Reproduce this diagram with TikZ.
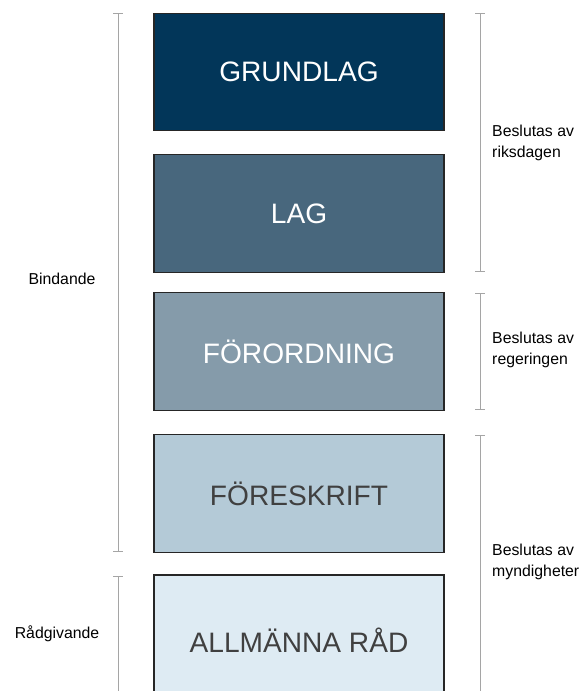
\documentclass[tikz,border=0pt]{standalone}
\usepackage{fontspec}
\setmainfont{Liberation Sans}
\usetikzlibrary{arrows.meta}
\definecolor{nivaA}{RGB}{2,54,89}
\definecolor{nivaB}{RGB}{72,103,125}
\definecolor{nivaC}{RGB}{133,155,170}
\definecolor{nivaD}{RGB}{180,202,215}
\definecolor{nivaE}{RGB}{222,235,243}
\definecolor{textgra}{RGB}{64,64,64}
\definecolor{linjegra}{RGB}{165,165,165}
\begin{document}
\begin{tikzpicture}[x=0.03cm,y=-0.03cm,
    niva/.style={draw=black!85,line width=1pt,rectangle,minimum width=8.7cm,
      minimum height=3.52cm,inner sep=0pt,font=\fontsize{24}{28}\selectfont},
    klammer/.style={draw=linjegra,line width=0.6pt,{Bar[width=8pt]}-{Bar[width=8pt]}},
    oppenklammer/.style={draw=linjegra,line width=0.6pt,{Bar[width=8pt]}-},
    etikett/.style={align=left,anchor=west,inner sep=0pt,
      font=\fontsize{13.5}{18}\selectfont}]
  \useasboundingbox (0,0) rectangle (582,691);

  % nivaerna
  \node[niva,fill=nivaA,text=white] (grundlag) at (299,72) {GRUNDLAG};
  \node[niva,fill=nivaB,text=white] (lag) at (299,213.5) {LAG};
  \node[niva,fill=nivaC,text=white] (forordning) at (299,351.5) {FÖRORDNING};
  \node[niva,fill=nivaD,text=textgra] (foreskrift) at (299,493.5) {FÖRESKRIFT};
  \node[niva,fill=nivaE,text=textgra,minimum height=3.9cm] (allmanna) at (299,640) {ALLMÄNNA RÅD};

  % vanster
  \coordinate (binTopp) at (118,13);
  \coordinate (binBotten) at (118,552);
  \coordinate (radTopp) at (118,576);
  \coordinate (radBotten) at (118,700);
  \draw[klammer] (binTopp) -- (binBotten);
  \draw[oppenklammer] (radTopp) -- (radBotten);
  \node[inner sep=0pt,font=\fontsize{13.5}{18}\selectfont] (bindande) at (62,279) {Bindande};
  \node[inner sep=0pt,font=\fontsize{13.5}{18}\selectfont] (radgivande) at (57,634) {Rådgivande};

  % hoger
  \coordinate (rikTopp) at (480,13);
  \coordinate (rikBotten) at (480,272);
  \coordinate (regTopp) at (480,293);
  \coordinate (regBotten) at (480,410);
  \coordinate (myndTopp) at (480,435);
  \coordinate (myndBotten) at (480,700);
  \draw[klammer] (rikTopp) -- (rikBotten);
  \draw[klammer] (regTopp) -- (regBotten);
  \draw[oppenklammer] (myndTopp) -- (myndBotten);
  \node[etikett] (riksdagen) at (492,143) {Beslutas av\\riksdagen};
  \node[etikett] (regeringen) at (492,350) {Beslutas av\\regeringen};
  \node[etikett] (myndigheter) at (492,562) {Beslutas av\\myndigheter};
\end{tikzpicture}
\end{document}
